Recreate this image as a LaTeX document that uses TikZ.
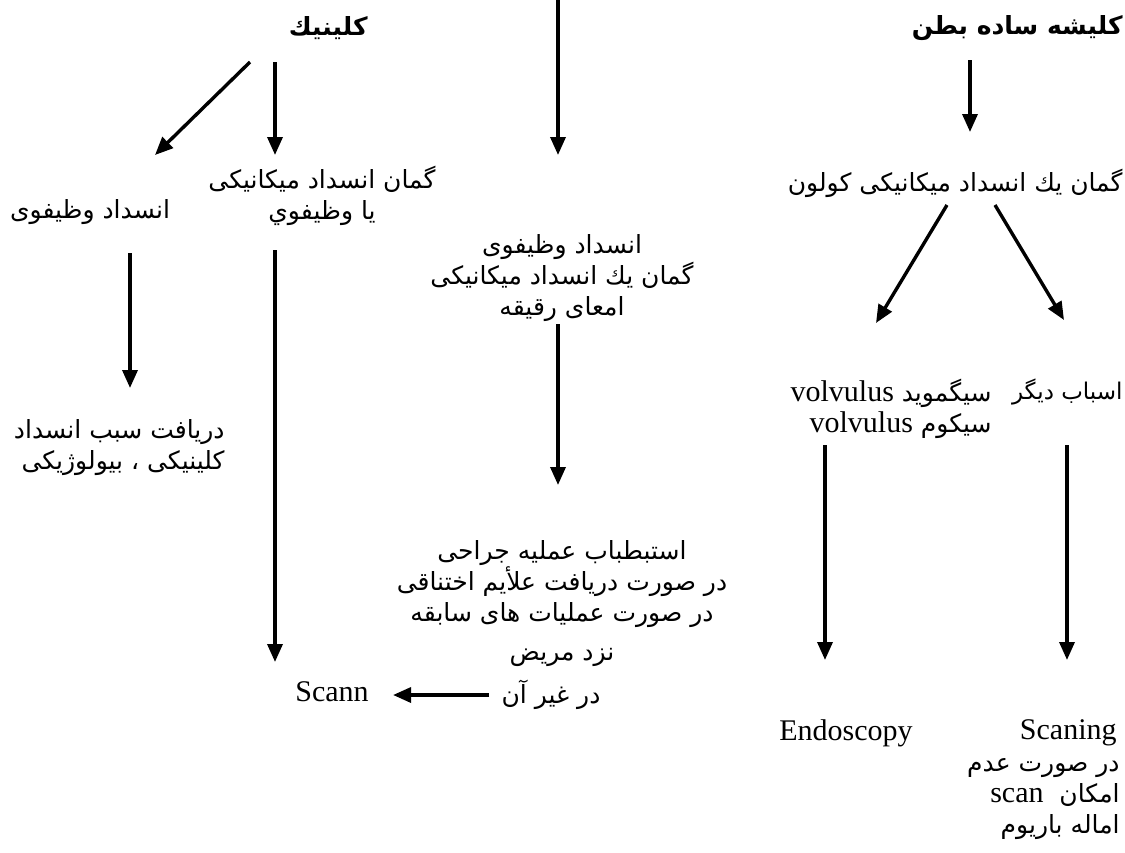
\documentclass[tikz,border=0pt]{standalone}
\usepackage{fontspec}
\setmainfont{Liberation Serif}
\newfontfamily\ar[Script=Arabic]{DejaVu Sans}
\usetikzlibrary{arrows.meta}
\TeXXeTstate=1
\newcommand{\fatxt}[1]{\beginR #1\endR}
\newcommand{\lat}[1]{\beginL{\rmfamily\fontsize{15}{18}\selectfont #1}\endL}
\tikzstyle{fa}=[
    font = \ar\fontsize{12.5}{15.5}\selectfont,
    inner sep = 0pt
]
\tikzstyle{fa head}=[
    font = \ar\bfseries\fontsize{12.5}{16}\selectfont,
    inner sep = 0pt
]
\tikzstyle{en}=[
    font = \fontsize{15}{18}\selectfont,
    inner sep = 0pt
]

\begin{document}
\begin{tikzpicture}[x=0.5pt, y=-0.5pt, flow/.style = {-{Triangle[length=9pt,width=7.5pt]}, line width=1.7pt}]
        \useasboundingbox (0,0) rectangle (1125,852);

        % headings
        \node[fa head, anchor=east] (kl) at (368,28) {\fatxt{كلينيك}};
        \node[fa head, anchor=east] (kb) at (1123,28) {\fatxt{كليشه ساده بطن}};
        \coordinate (top) at (558,0);

        % left side
        \node[fa, align=center] (g1) at (322,196) {\fatxt{گمان انسداد ميكانيكی}\\\fatxt{يا وظيفوي}};
        \node[fa] (w1) at (90,212) {\fatxt{انسداد وظيفوی}};
        \node[fa, align=right, anchor=east] (d1) at (225,448) {\fatxt{دريافت سبب انسداد}\\\fatxt{كلينيكی ، بيولوژيكی}};
        \node[en] (sc) at (332,692) {Scann};

        % middle
        \node[fa, align=center] (m1) at (562,278) {\fatxt{انسداد وظيفوی}\\\fatxt{گمان يك انسداد ميكانيكی}\\\fatxt{امعای رقيقه}};
        \node[fa, align=center] (m2) at (562,604) {\fatxt{استبطباب عمليه جراحی}\\\fatxt{در صورت دريافت علأيم اختناقی}\\\fatxt{در صورت عمليات های سابقه}\\[4pt]\fatxt{نزد مريض}};
        \node[fa] (gh) at (551,695) {\fatxt{در غير آن}};

        % right side
        \node[fa, anchor=east] (g2) at (1123,183) {\fatxt{گمان يك انسداد ميكانيكی كولون}};
        \node[fa, align=right, anchor=east] (vs) at (992,409) {\fatxt{سيگمويد \lat{volvulus}}\\\fatxt{سيكوم \lat{volvulus}}};
        \node[fa, anchor=east, font=\ar\fontsize{11.5}{14}\selectfont] (ab) at (1123,392) {\fatxt{اسباب ديگر}};
        \node[en] (en) at (846,733) {Endoscopy};
        \node[en, anchor=east] (scg) at (1117,733) {Scaning};
        \node[fa, align=right, anchor=north east] (bt) at (1120,758) {\fatxt{در صورت عدم}\\\fatxt{امكان \ \lat{scan}}\\\fatxt{اماله باريوم}};

        \draw[flow] ([shift={(-118,34)}]kl.east) -- ([shift={(65,-57)}]w1.center);
        \draw[flow] ([shift={(-93,34)}]kl.east) -- ([shift={(-47,-41)}]g1.center);
        \draw[flow] (top) -- ([shift={(-4,-123)}]m1.center);
        \draw[flow] ([shift={(-153,32)}]kb.east) -- ([shift={(-153,-51)}]g2.east);
        \draw[flow] ([shift={(-176,22)}]g2.east) -- ([shift={(-116,-86)}]vs.east);
        \draw[flow] ([shift={(-128,22)}]g2.east) -- ([shift={(-59,-72)}]ab.east);
        \draw[flow] ([shift={(40,41)}]w1.center) -- ([shift={(-95,-60)}]d1.east);
        \draw[flow] ([shift={(-47,54)}]g1.center) -- ([shift={(-57,-30)}]sc.center);
        \draw[flow] ([shift={(-4,46)}]m1.center) -- ([shift={(-4,-119)}]m2.center);
        \draw[flow] ([shift={(-167,36)}]vs.east) -- ([shift={(-21,-73)}]en.center);
        \draw[flow] ([shift={(-56,53)}]ab.east) -- ([shift={(-50,-73)}]scg.east);
        \draw[flow, shorten <=6pt, shorten >=12pt] (gh.west) -- (gh.west -| sc.east);

    \end{tikzpicture}
\end{document}
